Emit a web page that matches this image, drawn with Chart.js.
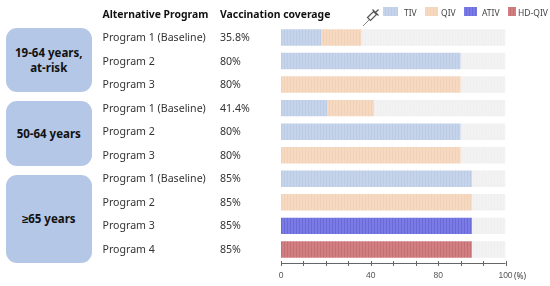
<!DOCTYPE html>
<html>
<head>
<meta charset="utf-8">
<script src="https://cdn.jsdelivr.net/npm/chart.js@4"></script>
<style>
  html, body { margin: 0; padding: 0; background: #fff; }
  #wrap { position: relative; width: 550px; height: 286px; overflow: hidden; font-family: "Noto Sans", sans-serif; color: #333; }
  #chart { position: absolute; left: 0; top: 0; }
  .txt { position: absolute; white-space: nowrap; font-size: 10.6px; line-height: 14px; transform: translateY(-50%); }
  .head { font-weight: 700; color: #111; font-size: 10.4px; }
  .group { position: absolute; left: 6px; width: 85.5px; background: #b4c7e7; border-radius: 11px; display: flex; align-items: center; justify-content: center; text-align: center; font-weight: 700; font-size: 11.5px; line-height: 15px; color: #111; }
  .swatch { position: absolute; top: 7px; height: 9px; }
  .leg { position: absolute; top: 11.5px; transform: translateY(-50%); font-size: 8.5px; color: #444; white-space: nowrap; }
</style>
</head>
<body>
<div id="wrap">
  <canvas id="chart" width="550" height="286"></canvas>
  <svg style="position:absolute;left:360px;top:8px" width="22" height="20" viewBox="0 0 22 20">
    <path d="M3 18 L9 12" stroke="#888" stroke-width="1" fill="none"/>
    <path d="M7.5 9.5 L13.5 3.5 L16.5 6.5 L10.5 12.5 Z" fill="#fff" stroke="#555" stroke-width="1.2"/>
    <path d="M12.5 1.5 L18.5 7.5 M15.5 4.5 L18.5 1.5" stroke="#555" stroke-width="1.2" fill="none"/>
  </svg>
</div>
<script>
// --- 1. DATA ---
const programs = ['Program 1 (Baseline)', 'Program 2', 'Program 3', 'Program 1 (Baseline)', 'Program 2', 'Program 3', 'Program 1 (Baseline)', 'Program 2', 'Program 3', 'Program 4'];
const coverage = ['35.8%', '80%', '80%', '41.4%', '80%', '80%', '85%', '85%', '85%', '85%'];
const tiv  = [17.9, 80, 0, 20.7, 80, 0, 85, 0, 0, 0];
const qiv  = [17.9, 0, 80, 20.7, 0, 80, 0, 85, 0, 0];
const ativ = [0, 0, 0, 0, 0, 0, 0, 0, 85, 0];
const hd   = [0, 0, 0, 0, 0, 0, 0, 0, 0, 85];
const rest = [64.2, 20, 20, 58.6, 20, 20, 15, 15, 15, 15];
const tickLabels = ['0', '', '', '', '40', '', '', '80', '', '', '100'];

const TIV_COL = '#c5d4ea', QIV_COL = '#f6d9c0', ATIV_COL = '#7b7be6', HD_COL = '#d27f82', REST_COL = '#f2f2f2';
const TIV_LINE = '#bccce4', QIV_LINE = '#f0d2b8', ATIV_LINE = '#6a6ad8', HD_LINE = '#c57074', REST_LINE = '#efefef';

// thin vertical stripes like the original bars
const stripes = (col, line) => {
    const c = document.createElement('canvas');
    c.width = 3; c.height = 3;
    const g = c.getContext('2d');
    g.fillStyle = col; g.fillRect(0, 0, 3, 3);
    g.fillStyle = line; g.fillRect(2, 0, 1, 3);
    return g.createPattern(c, 'repeat');
};

// axis line + ticks straddle the line, so they are drawn here from the x scale
const axisPlugin = {
    id: 'axisLine',
    afterDraw(chart) {
        const x = chart.scales.x, ctx = chart.ctx, y = 263;
        ctx.save();
        ctx.strokeStyle = '#666';
        ctx.lineWidth = 1;
        ctx.beginPath();
        ctx.moveTo(x.left, y + 0.5); ctx.lineTo(x.right, y + 0.5);
        x.ticks.forEach(t => {
            const px = Math.round(x.getPixelForValue(t.value)) + 0.5;
            ctx.moveTo(px, y - 2); ctx.lineTo(px, y + 3);
        });
        ctx.stroke();
        ctx.restore();
    }
};

// --- 2. CHART ---
const barOpts = { barPercentage: 0.7, categoryPercentage: 1, borderWidth: 0 };
const chart = new Chart(document.getElementById('chart').getContext('2d'), {
    type: 'bar',
    data: {
        labels: programs,
        datasets: [
            { label: 'TIV', data: tiv, backgroundColor: stripes(TIV_COL, TIV_LINE), ...barOpts },
            { label: 'QIV', data: qiv, backgroundColor: stripes(QIV_COL, QIV_LINE), ...barOpts },
            { label: 'ATIV', data: ativ, backgroundColor: stripes(ATIV_COL, ATIV_LINE), ...barOpts },
            { label: 'HD-QIV', data: hd, backgroundColor: stripes(HD_COL, HD_LINE), ...barOpts },
            { label: 'Rest', data: rest, backgroundColor: stripes(REST_COL, REST_LINE), ...barOpts }
        ]
    },
    options: {
        indexAxis: 'y',
        responsive: false,
        animation: false,
        layout: { padding: { left: 281, right: 44.5, top: 25.7, bottom: 0 } },
        plugins: { legend: { display: false }, tooltip: { enabled: false } },
        scales: {
            y: { stacked: true, display: false },
            x: {
                stacked: true, min: 0, max: 100,
                grid: { display: false },
                border: { display: false },
                afterFit: scale => { scale.height = 24.8; },
                ticks: {
                    stepSize: 10, autoSkip: false, maxRotation: 0, padding: 1,
                    color: '#555',
                    font: { family: "'Liberation Sans', sans-serif", size: 8.5 },
                    callback: (v, i) => tickLabels[i]
                }
            }
        }
    },
    plugins: [axisPlugin]
});

// --- 3. TABLE TEXT, GROUP BOXES, LEGEND ---
const wrap = document.getElementById('wrap');
const addText = (cls, x, y, text) => {
    const el = document.createElement('div');
    el.className = cls;
    el.style.left = x + 'px';
    el.style.top = y + 'px';
    el.textContent = text;
    wrap.appendChild(el);
};

addText('txt head', 102.5, 13.5, 'Alternative Program');
addText('txt head', 220, 13.5, 'Vaccination coverage');
programs.forEach((p, i) => {
    const y = chart.scales.y.getPixelForTick(i) - 0.5;
    addText('txt', 102.5, y, p);
    addText('txt', 220, y, coverage[i]);
});
addText('leg', 514, 275, '(%)');

[[28, 64, '19-64 years,<br>at-risk'], [101, 65, '50-64 years'], [174.5, 88, '≥65 years']].forEach(g => {
    const el = document.createElement('div');
    el.className = 'group';
    el.style.top = g[0] + 'px';
    el.style.height = g[1] + 'px';
    el.innerHTML = g[2];
    wrap.appendChild(el);
});

[[383, 15, TIV_COL, TIV_LINE, 404, 'TIV'], [425, 13, QIV_COL, QIV_LINE, 441, 'QIV'], [464, 13, ATIV_COL, ATIV_LINE, 482, 'ATIV'], [508, 8, HD_COL, HD_LINE, 518, 'HD-QIV']].forEach(l => {
    const s = document.createElement('div');
    s.className = 'swatch';
    s.style.left = l[0] + 'px';
    s.style.width = l[1] + 'px';
    s.style.background = `repeating-linear-gradient(90deg, ${l[2]} 0 2px, ${l[3]} 2px 3px)`;
    wrap.appendChild(s);
    addText('leg', l[4], 11.5, l[5]);
});
</script>
</body>
</html>
